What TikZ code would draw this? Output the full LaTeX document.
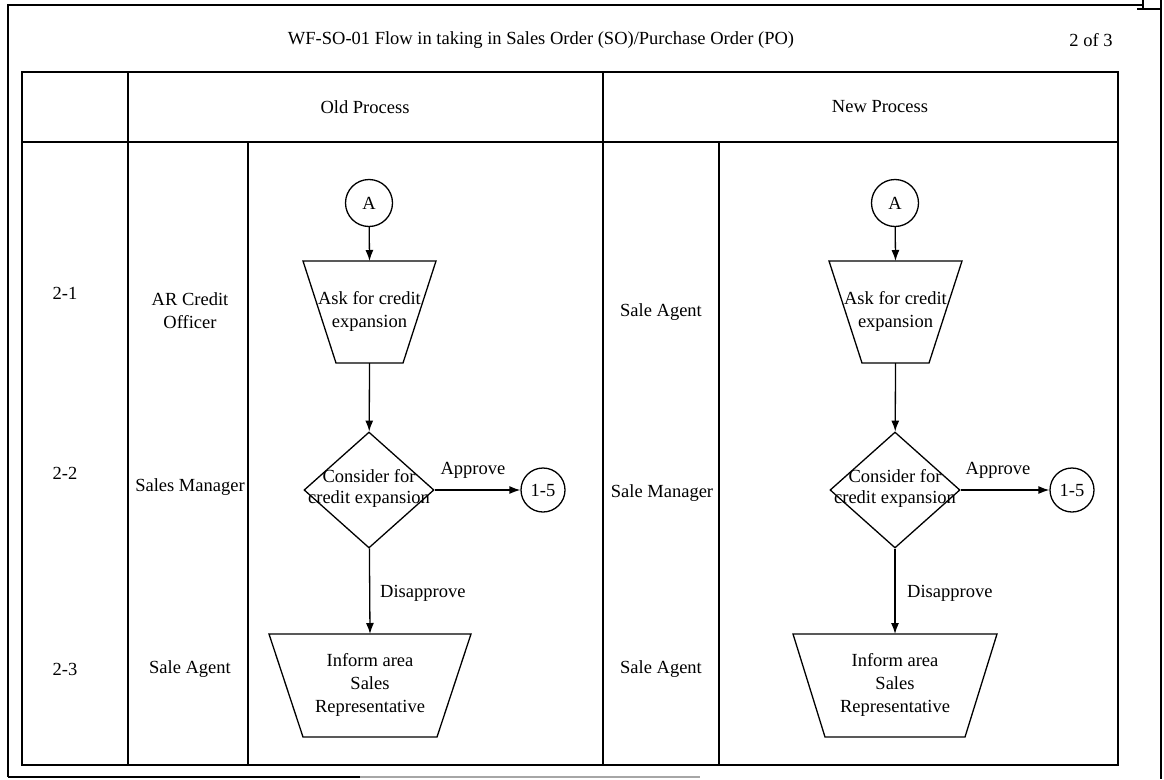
\documentclass[tikz,border=0pt]{standalone}
\usepackage{fontspec}
\setmainfont{Liberation Serif}
\usetikzlibrary{shapes.geometric,arrows.meta,calc}
\begin{document}
\begin{tikzpicture}[x=1pt,y=-1pt,
  every node/.style={font=\fontsize{18.5}{23}\selectfont, inner sep=0pt, align=center},
  txt/.style={},
  tight/.style={font=\fontsize{18.5}{21}\selectfont},
  rule/.style={line width=1.8pt},
  shapeline/.style={line width=1.3pt, line join=miter},
  conn/.style={circle, draw, line width=1.3pt, minimum size=47pt},
  decide/.style={diamond, draw, line width=1.3pt, minimum width=130pt, minimum height=116pt},
  arr/.style={line width=1.3pt, -{Latex[length=11pt,width=8pt]}},
]
\useasboundingbox (0,0) rectangle (1164,779);

% page frame (its lower edge fades out towards the right)
\draw[rule] (8,777) -- (8,5) -- (1143,5);
\draw[rule] (1161,0) -- (1161,779);
\draw[rule] (8,777) -- (360,777);
\draw[rule, black!35] (360,777) -- (700,777);
\draw[line width=2pt] (1143,0) -- (1143,10) (1137,9) -- (1161,9);

% table grid
\draw[rule] (22,72) rectangle (1118,765);
\draw[rule] (22,142) -- (1118,142);
\draw[rule] (128,72) -- (128,765);
\draw[rule] (603,72) -- (603,765);
\draw[rule] (248,142) -- (248,765);
\draw[rule] (719,142) -- (719,765);

% header
\node[txt] (title) at (541,40) {WF-SO-01 Flow in taking in Sales Order (SO)/Purchase Order (PO)};
\node[txt] (page) at (1091,40) {2 of 3};
\node[txt] (oldh) at (365,107) {Old Process};
\node[txt] (newh) at (880,107) {New Process};

% step numbers and roles
\node[txt] (s1) at (65,293) {2-1};
\node[txt] (s2) at (65,473) {2-2};
\node[txt] (s3) at (65,669) {2-3};
\node[txt] (r1o) at (190,311) {AR Credit\\Officer};
\node[txt] (r2o) at (190,487) {Sales Manager};
\node[txt] (r3o) at (190,669) {Sale Agent};
\node[txt] (r1n) at (661,312) {Sale Agent};
\node[txt] (r2n) at (662,493) {Sale Manager};
\node[txt] (r3n) at (661,669) {Sale Agent};

% ---------- old process ----------
\node[conn] (ao) at (369,203) {A};
% input/output trapezium, wide edge on top
\node[txt] (asko) at (369.5,311) {Ask for credit\\expansion};
\coordinate (asko-top) at ($(asko)+(0,-50)$);
\coordinate (asko-bot) at ($(asko)+(0,52)$);
\draw[shapeline] ($(asko)+(-66.5,-50)$) -- ($(asko)+(66.5,-50)$) -- ($(asko)+(33.5,52)$) -- ($(asko)+(-33.5,52)$) -- cycle;
\node[decide] (deco) at (369,490) {};
\node[tight] (decot) at (369,488) {Consider for\\credit expansion};
\node[conn, minimum size=44pt] (go) at (543,490) {1-5};
\node[txt] (info) at (370,685) {Inform area\\Sales\\Representative};
\coordinate (info-top) at ($(info)+(0,-51)$);
\draw[shapeline] ($(info)+(-101,-51)$) -- ($(info)+(101,-51)$) -- ($(info)+(67,52)$) -- ($(info)+(-67,52)$) -- cycle;
\draw[arr] (ao) -- (asko-top);
\draw[arr] (asko-bot) -- (deco);
\draw[arr] (deco) -- (go);
\draw[arr] (deco) -- (info-top);
\node[txt] (apo) at (473,470) {Approve};
\node[txt, anchor=west] (diso) at (380,593) {Disapprove};

% ---------- new process ----------
\node[conn] (an) at (895,203) {A};
\node[txt] (askn) at (895.5,311) {Ask for credit\\expansion};
\coordinate (askn-top) at ($(askn)+(0,-50)$);
\coordinate (askn-bot) at ($(askn)+(0,52)$);
\draw[shapeline] ($(askn)+(-66.5,-50)$) -- ($(askn)+(66.5,-50)$) -- ($(askn)+(33.5,52)$) -- ($(askn)+(-33.5,52)$) -- cycle;
\node[decide] (decn) at (895,490) {};
\node[tight] (decnt) at (895,488) {Consider for\\credit expansion};
\node[conn, minimum size=44pt] (gn) at (1072,490) {1-5};
\node[txt] (infn) at (895,685) {Inform area\\Sales\\Representative};
\coordinate (infn-top) at ($(infn)+(0,-51)$);
\draw[shapeline] ($(infn)+(-102,-51)$) -- ($(infn)+(102,-51)$) -- ($(infn)+(70,52)$) -- ($(infn)+(-70,52)$) -- cycle;
\draw[arr] (an) -- (askn-top);
\draw[arr] (askn-bot) -- (decn);
\draw[arr] (decn) -- (gn);
\draw[arr] (decn) -- (infn-top);
\node[txt] (apn) at (998,470) {Approve};
\node[txt, anchor=west] (disn) at (907,593) {Disapprove};
\end{tikzpicture}
\end{document}
